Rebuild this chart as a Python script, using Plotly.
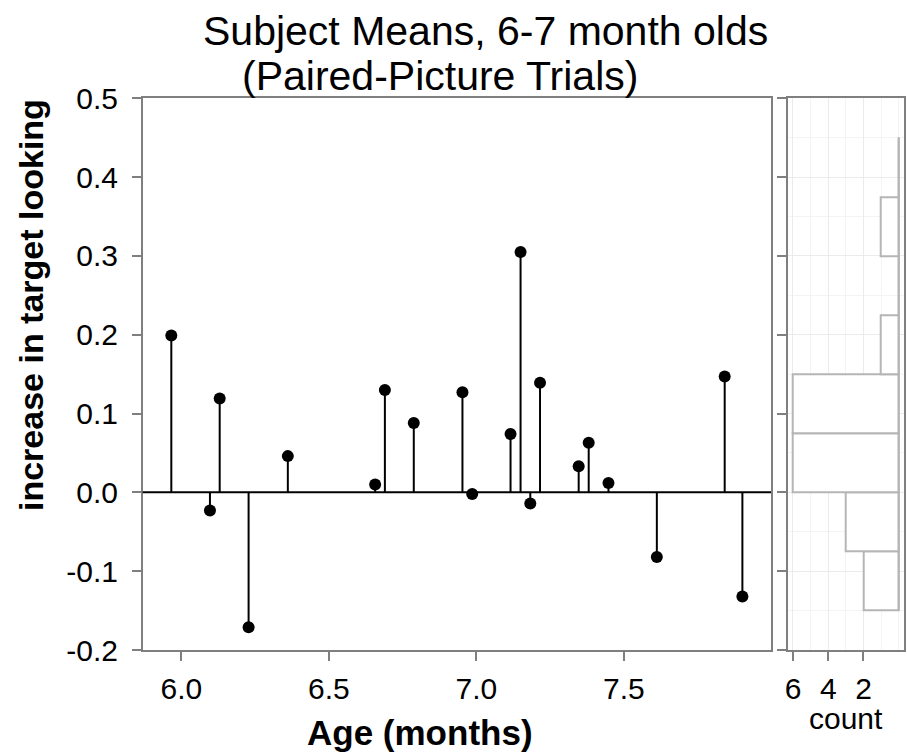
import numpy as np
import plotly.graph_objects as go

# ---- data ----
age_months = [5.966, 6.097, 6.130, 6.228, 6.361, 6.657, 6.690, 6.788, 6.953, 6.986,
              7.116, 7.150, 7.183, 7.216, 7.347, 7.381, 7.448, 7.612, 7.842, 7.902]
increase = [0.199, -0.023, 0.119, -0.171, 0.046, 0.010, 0.130, 0.088, 0.127, -0.002,
            0.074, 0.305, -0.014, 0.139, 0.033, 0.063, 0.012, -0.082, 0.147, -0.132]

x_ticks = [6.0, 6.5, 7.0, 7.5]
x_ticklabels = ["6.0", "6.5", "7.0", "7.5"]
y_ticks = [-0.2, -0.1, 0.0, 0.1, 0.2, 0.3, 0.4, 0.5]
y_ticklabels = ["-0.2", "-0.1", "0.0", "0.1", "0.2", "0.3", "0.4", "0.5"]
count_ticks = [6, 4, 2]
count_ticklabels = ["6", "4", "2"]

bin_start, bin_end, bin_width = -0.15, 0.45, 0.075

# ---- derived ----
edges = np.arange(bin_start, bin_end + bin_width / 2, bin_width)
counts, _ = np.histogram(increase, bins=edges)
centers = (edges[:-1] + edges[1:]) / 2

FONT = "Liberation Sans, Arial, sans-serif"
W, H = 907, 752
GRAY = "#7F7F7F"
GRID = "#EBEBEB"

stem_x, stem_y = [], []
for a, v in zip(age_months, increase):
    stem_x += [a, a, None]
    stem_y += [0, v, None]

fig = go.Figure()
fig.add_trace(go.Scatter(x=stem_x, y=stem_y, mode="lines",
                         line=dict(color="black", width=2), hoverinfo="skip",
                         showlegend=False, xaxis="x", yaxis="y"))
fig.add_trace(go.Scatter(x=age_months, y=increase, mode="markers",
                         marker=dict(color="black", size=12), showlegend=False,
                         xaxis="x", yaxis="y"))

# histogram panel
fig.add_trace(go.Bar(y=centers, x=counts, orientation="h", width=bin_width,
                     marker=dict(color="white", line=dict(color="#B5B5B5", width=2)),
                     showlegend=False, xaxis="x2", yaxis="y2"))
fig.add_trace(go.Scatter(x=[0, 0], y=[edges[0], edges[-1]], mode="lines",
                         line=dict(color="#B5B5B5", width=2), showlegend=False,
                         xaxis="x2", yaxis="y2"))

fig.add_shape(type="line", xref="x domain", x0=0, x1=1, yref="y", y0=0, y1=0,
              line=dict(color="black", width=2), layer="above")

def px_x(p):
    return p / W

def px_y(p):
    return 1 - p / H

axis_common = dict(showline=True, mirror=True, linecolor=GRAY, linewidth=1.5,
                   ticks="outside", ticklen=9, tickwidth=1.5, tickcolor=GRAY,
                   zeroline=False, automargin=False,
                   tickfont=dict(family=FONT, size=30, color="black"))

fig.update_layout(
    width=W, height=H,
    margin=dict(l=0, r=0, t=0, b=0, autoexpand=False),
    paper_bgcolor="white", plot_bgcolor="white",
    bargap=0,
    xaxis=dict(domain=[px_x(142.7), px_x(771)], range=[5.869, 7.999],
               tickvals=x_ticks, ticktext=x_ticklabels, showgrid=False, anchor="y",
               ticklabelstandoff=2, **axis_common),
    yaxis=dict(domain=[px_y(650), px_y(98.3)], range=[-0.2, 0.5],
               tickvals=y_ticks, ticktext=y_ticklabels, showgrid=False, anchor="x",
               ticklabelstandoff=8, **axis_common),
    xaxis2=dict(domain=[px_x(787.7), px_x(904)], range=[6.3, -0.3],
                tickvals=count_ticks, ticktext=count_ticklabels,
                showgrid=True, gridcolor=GRID, gridwidth=1.2,
                minor=dict(dtick=1, tick0=0, showgrid=True, gridcolor="#F4F4F4", gridwidth=1),
                anchor="y2", ticklabelstandoff=2, **axis_common),
    yaxis2=dict(domain=[px_y(650), px_y(98.3)], range=[-0.2, 0.5], matches="y",
                tickvals=y_ticks, showticklabels=False,
                showgrid=True, gridcolor=GRID, gridwidth=1.2,
                minor=dict(dtick=0.05, tick0=0, showgrid=True, gridcolor="#F4F4F4", gridwidth=1),
                anchor="x2", **axis_common),
    annotations=[
        dict(text="Subject Means, 6-7 month olds", x=px_x(485), y=px_y(31),
             xref="paper", yref="paper", xanchor="center", yanchor="middle",
             showarrow=False, font=dict(family=FONT, size=41, color="black")),
        dict(text="(Paired-Picture Trials)", x=px_x(240), y=px_y(76),
             xref="paper", yref="paper", xanchor="left", yanchor="middle",
             showarrow=False, font=dict(family=FONT, size=41, color="black")),
        dict(text="<b>Age (months)</b>", x=px_x(420), y=px_y(732),
             xref="paper", yref="paper", xanchor="center", yanchor="middle",
             showarrow=False, font=dict(family=FONT, size=35, color="black")),
        dict(text="<b>increase in target looking</b>", x=px_x(31), y=px_y(305),
             xref="paper", yref="paper", xanchor="center", yanchor="middle",
             textangle=-90, showarrow=False,
             font=dict(family=FONT, size=34, color="black")),
        dict(text="count", x=px_x(846), y=px_y(718),
             xref="paper", yref="paper", xanchor="center", yanchor="middle",
             showarrow=False, font=dict(family=FONT, size=30, color="black")),
    ],
)

fig.write_html("out.html", config={"displayModeBar": False},
               post_script="document.body.style.margin='0';document.body.style.overflow='hidden';")
